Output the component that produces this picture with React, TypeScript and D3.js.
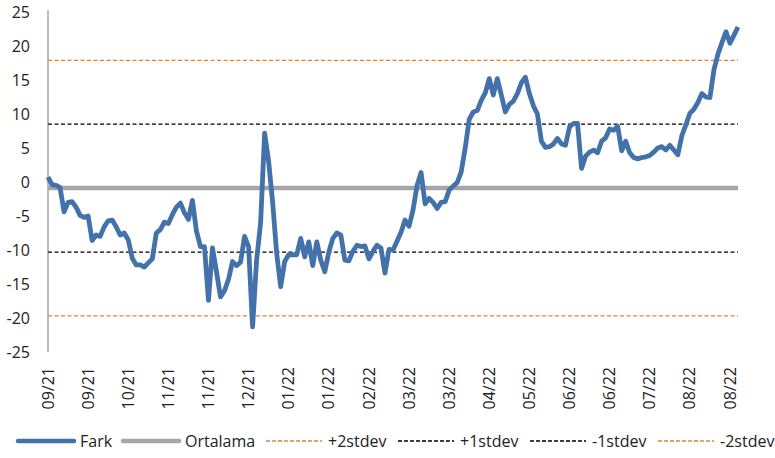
import { useRef, useEffect } from 'react';
import * as d3 from 'd3';

// Fark series (one point per ~4px)
const farkValues = [
  0.7, -0.4, -0.5, -0.8, -4.4, -3.0, -2.9, -3.7, -4.9, -5.2,
  -5.0, -8.6, -7.8, -8.0, -6.6, -5.7, -5.6, -6.6, -7.8, -7.5,
  -8.5, -11.2, -12.2, -12.2, -12.5, -11.9, -11.3, -7.5, -7.0, -5.9,
  -6.1, -4.8, -3.7, -3.1, -4.5, -5.5, -2.7, -7.2, -9.5, -9.5,
  -17.4, -9.7, -13.2, -16.9, -16.0, -14.3, -11.7, -12.3, -11.8, -8.0,
  -9.5, -21.3, -11.5, -6.0, 7.2, 3.0, -3.0, -10.5, -15.4, -11.7,
  -10.7, -10.7, -10.7, -8.3, -11.0, -8.8, -12.3, -8.8, -11.5, -13.2,
  -10.3, -8.3, -7.5, -7.8, -11.5, -11.6, -10.2, -9.3, -9.5, -9.4,
  -11.3, -10.2, -9.3, -9.7, -13.4, -9.9, -10.0, -8.7, -7.4, -5.6,
  -6.5, -4.1, -0.5, 1.4, -3.2, -2.4, -3.0, -3.9, -3.0, -2.9,
  -1.2, -0.6, -0.1, 1.5, 5.0, 9.2, 10.3, 10.5, 12.0, 13.1,
  15.2, 12.8, 15.2, 12.8, 10.3, 11.4, 11.9, 13.0, 14.6, 15.4,
  13.0, 11.2, 10.0, 6.0, 5.1, 5.2, 5.6, 6.4, 5.6, 5.4,
  8.1, 8.6, 8.6, 2.0, 3.8, 4.4, 4.7, 4.3, 6.0, 6.5,
  7.8, 7.6, 8.2, 4.6, 6.0, 4.3, 3.6, 3.4, 3.6, 3.7,
  3.9, 4.4, 5.0, 5.2, 4.7, 5.4, 4.7, 4.0, 6.8, 8.4,
  10.1, 10.7, 11.7, 13.0, 12.5, 12.4, 16.5, 18.8, 20.5, 22.1,
  20.4, 21.6, 22.8,
];

const tickLabels = [
  '09/21', '09/21', '10/21', '11/21', '11/21', '12/21', '01/22', '01/22', '02/22',
  '03/22', '03/22', '04/22', '05/22', '06/22', '06/22', '07/22', '08/22', '08/22',
];
const tickEvery = 10;

const yTicks = [25, 20, 15, 10, 5, 0, -5, -10, -15, -20, -25];

const ortalama = -0.9;
const plus2 = 17.9;
const plus1 = 8.5;
const minus1 = -10.3;
const minus2 = -19.7;

const legendNames = ['Fark', 'Ortalama', '+2stdev', '+1stdev', '-1stdev', '-2stdev'];

const BLUE = '#4372AA';
const GRAY = '#A6A6A6';
const ORANGE = '#ED7D31';
const FONT = '"Open Sans", sans-serif';

export default function App() {
  const svgRef = useRef<SVGSVGElement>(null);

  useEffect(() => {
    if (!svgRef.current) return;
    document.body.style.margin = '0';

    const width = 775;
    const height = 458;
    const svg = d3.select(svgRef.current);
    svg.selectAll('*').remove();
    svg.attr('width', width).attr('height', height);

    const margin = { top: 12, right: 37, bottom: 106, left: 48 };
    const innerWidth = width - margin.left - margin.right;
    const innerHeight = height - margin.top - margin.bottom;

    const g = svg.append('g').attr('transform', `translate(${margin.left},${margin.top})`);

    const xScale = d3.scaleLinear().domain([0, farkValues.length - 1]).range([0, innerWidth]);
    const yScale = d3.scaleLinear().domain([-25, 25]).range([innerHeight, 0]);

    // y tick labels
    g.selectAll('.ylab')
      .data(yTicks)
      .enter()
      .append('text')
      .attr('x', -18)
      .attr('y', (d) => yScale(d))
      .attr('dy', '0.35em')
      .attr('text-anchor', 'end')
      .attr('font-family', FONT)
      .attr('font-size', '16px')
      .attr('fill', '#222')
      .text((d) => String(d));

    // y axis line
    g.append('line')
      .attr('x1', 0)
      .attr('x2', 0)
      .attr('y1', -2)
      .attr('y2', innerHeight)
      .attr('stroke', '#A6A6A6')
      .attr('stroke-width', 1.5);

    // stdev bands
    const bands = [
      { v: plus2, c: ORANGE },
      { v: plus1, c: '#000' },
      { v: minus1, c: '#000' },
      { v: minus2, c: ORANGE },
    ];
    bands.forEach((b) => {
      g.append('line')
        .attr('x1', 0)
        .attr('x2', innerWidth)
        .attr('y1', yScale(b.v))
        .attr('y2', yScale(b.v))
        .attr('stroke', b.c)
        .attr('stroke-width', 1.3)
        .attr('stroke-dasharray', '4,2.5');
    });

    // average line
    g.append('line')
      .attr('x1', 0)
      .attr('x2', innerWidth)
      .attr('y1', yScale(ortalama))
      .attr('y2', yScale(ortalama))
      .attr('stroke', GRAY)
      .attr('stroke-width', 4.5);

    // Fark line
    const line = d3
      .line<number>()
      .x((_, i) => xScale(i))
      .y((d) => yScale(d));

    g.append('path')
      .datum(farkValues)
      .attr('d', line)
      .attr('fill', 'none')
      .attr('stroke', BLUE)
      .attr('stroke-width', 4.8)
      .attr('stroke-linejoin', 'round');

    // x tick labels (rotated)
    tickLabels.forEach((lab, i) => {
      const x = xScale(i * tickEvery);
      g.append('text')
        .attr('transform', `translate(${x},${innerHeight + 15}) rotate(-90)`)
        .attr('text-anchor', 'end')
        .attr('dy', '0.35em')
        .attr('font-family', FONT)
        .attr('font-size', '16px')
        .attr('fill', '#222')
        .text(lab);
    });

    // legend
    const legendY = 441;
    const legendItems = [
      { x: 18, c: BLUE, w: 4.5, dash: null },
      { x: 123, c: GRAY, w: 4.5, dash: null },
      { x: 266, c: ORANGE, w: 1.3, dash: '4,2' },
      { x: 398, c: '#000', w: 1.3, dash: '4,2' },
      { x: 530, c: '#000', w: 1.3, dash: '4,2' },
      { x: 658, c: ORANGE, w: 1.3, dash: '4,2' },
    ];
    legendItems.forEach((it, i) => {
      const ln = svg
        .append('line')
        .attr('x1', it.x)
        .attr('x2', it.x + 56)
        .attr('y1', legendY)
        .attr('y2', legendY)
        .attr('stroke', it.c)
        .attr('stroke-width', it.w)
        .attr('stroke-linecap', it.dash ? 'butt' : 'round');
      if (it.dash) ln.attr('stroke-dasharray', it.dash);
      svg
        .append('text')
        .attr('x', it.x + 62)
        .attr('y', legendY)
        .attr('dy', '0.35em')
        .attr('font-family', FONT)
        .attr('font-size', '16px')
        .attr('fill', '#222')
        .text(legendNames[i]);
    });
  }, []);

  return <svg ref={svgRef} style={{ display: 'block' }} />;
}
